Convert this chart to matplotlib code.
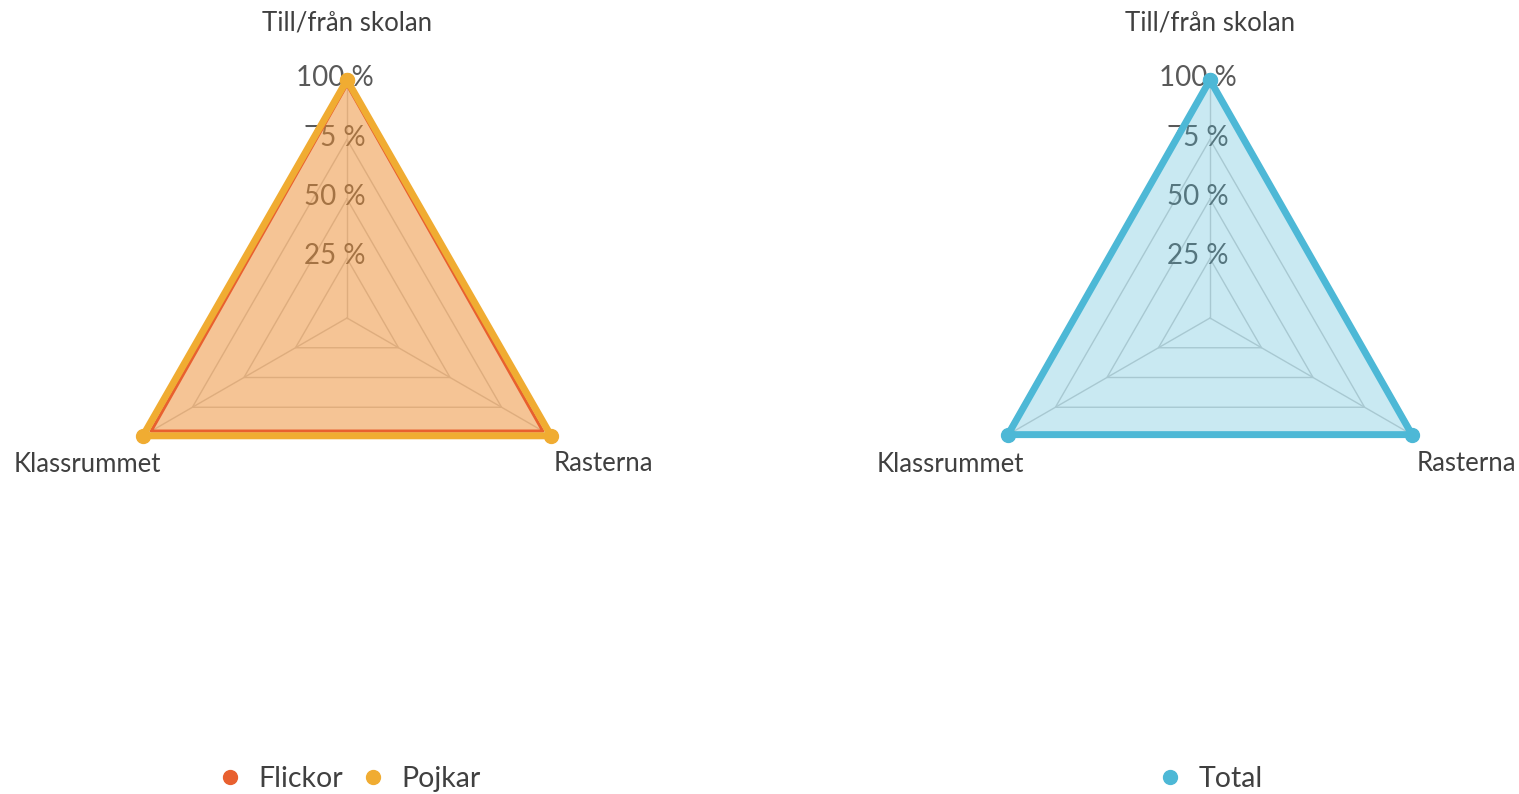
import matplotlib
matplotlib.use('Agg')
import matplotlib.pyplot as plt
import numpy as np
from matplotlib.lines import Line2D

plt.rcParams['font.family'] = ['Lato', 'DejaVu Sans']

categories = ['Till/från skolan', 'Rasterna', 'Klassrummet']
flickor = [98, 95, 95]
pojkar = [100, 99, 99]
total = [100, 98, 98]
levels = [25, 50, 75, 100]
level_labels = ['25 %', '50 %', '75 %', '100 %']

C_FLICKOR = '#E8602F'
C_POJKAR = '#F0AC32'
C_TOTAL = '#4DB8D6'
GRID = '#D0D0D0'
TXT = '#595959'
TXT_DARK = '#404040'

W, H = 1519, 794
fig = plt.figure(figsize=(W / 100, H / 100), dpi=100)
R = 238


def make_ax(cx, cy):
    ax = fig.add_axes([(cx - R) / W, 1 - (cy + R) / H, 2 * R / W, 2 * R / H],
                      projection='polar')
    ax.set_theta_zero_location('N')
    ax.set_theta_direction(-1)
    ax.set_ylim(0, 100)
    ax.grid(False)
    ax.spines['polar'].set_visible(False)
    ax.set_xticks([])
    ax.set_yticks([])
    ax.patch.set_alpha(0)
    theta = np.linspace(0, 2 * np.pi, len(categories), endpoint=False)
    closed = np.append(theta, theta[0])
    for lv in levels:
        ax.plot(closed, [lv] * len(closed), color=GRID, lw=1.0, zorder=1, clip_on=False)
    for t in theta:
        ax.plot([t, t], [0, 100], color=GRID, lw=1.0, zorder=1, clip_on=False)
    for lv, lab in zip(levels, level_labels):
        ax.annotate(lab, xy=(0, lv), xytext=(-12, 2), textcoords='offset pixels',
                    ha='center', va='center', fontsize=20, color=TXT, zorder=2,
                    annotation_clip=False)
    offs = [(0, 57), (50, -27), (-54, -27)]
    for t, cat, (dx, dy) in zip(theta, categories, offs):
        ax.annotate(cat, xy=(t, 100), xytext=(dx, dy), textcoords='offset pixels',
                    ha='center', va='center', fontsize=18.5, color=TXT_DARK,
                    annotation_clip=False)
    return ax, closed


def closed_vals(v):
    return list(v) + [v[0]]


# Left chart
ax1, th = make_ax(347, 318)
ax1.fill(th, closed_vals(flickor), color=C_FLICKOR, alpha=0.3, lw=0, zorder=3)
ax1.fill(th, closed_vals(pojkar), color=C_POJKAR, alpha=0.3, lw=0, zorder=3)
ax1.plot(th, closed_vals(flickor), color=C_FLICKOR, lw=2.2, zorder=4, clip_on=False)
ax1.plot(th, closed_vals(pojkar), color=C_POJKAR, lw=5, marker='o', ms=10,
         zorder=5, clip_on=False, solid_joinstyle='miter')

# Right chart
ax2, th = make_ax(1210, 318)
ax2.fill(th, closed_vals(total), color=C_TOTAL, alpha=0.3, lw=0, zorder=3)
ax2.plot(th, closed_vals(total), color=C_TOTAL, lw=5, marker='o', ms=10,
         zorder=5, clip_on=False, solid_joinstyle='miter')

# Legends
h1 = [Line2D([], [], color=C_FLICKOR, marker='o', ls='none', ms=10, label='Flickor'),
      Line2D([], [], color=C_POJKAR, marker='o', ls='none', ms=10, label='Pojkar')]
fig.legend(handles=h1, loc='center', bbox_to_anchor=(350 / W, 1 - 779 / H),
           ncol=2, frameon=False, fontsize=20.5, handlelength=0.8,
           handletextpad=0.6, columnspacing=0.65, labelcolor=TXT_DARK)
h2 = [Line2D([], [], color=C_TOTAL, marker='o', ls='none', ms=10, label='Total')]
fig.legend(handles=h2, loc='center', bbox_to_anchor=(1211 / W, 1 - 779 / H),
           ncol=1, frameon=False, fontsize=20.5, handlelength=0.8,
           handletextpad=0.6, labelcolor=TXT_DARK)

fig.savefig('out.png', dpi=100)
